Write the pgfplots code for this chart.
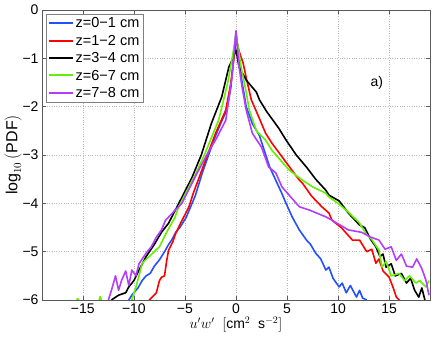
\documentclass[border=0pt]{standalone}
\usepackage{fontspec}
\setmainfont{Liberation Sans}
\usepackage{pgfplots}
\pgfplotsset{compat=1.18}

\definecolor{cblue}{RGB}{35,80,255}
\definecolor{cred}{RGB}{255,0,0}
\definecolor{cgreen}{RGB}{100,240,0}
\definecolor{cpurple}{RGB}{180,60,255}

\begin{document}
\begin{tikzpicture}[x=1pt,y=1pt]
\begin{axis}[
    scale only axis,
    width=388pt, height=290pt,
    xmin=-19, xmax=19, ymin=-6, ymax=0,
    xtick={-15,-10,-5,0,5,10,15},
    xticklabels={−15,−10,−5,0,5,10,15},
    ytick={-6,-5,-4,-3,-2,-1,0},
    yticklabels={−6,−5,−4,−3,−2,−1,0},
    tick label style={font=\fontsize{14}{16}\selectfont},
    xlabel={$u'w'\ \ [\mathrm{cm}^2\ \ \mathrm{s}^{-2}]$},
    ylabel={$\mathrm{log}_{10}\,(\mathrm{PDF})$},
    xlabel style={font=\fontsize{14}{16}\selectfont},
    ylabel style={font=\fontsize{16}{18}\selectfont},
    xlabel shift=-3pt,
    ylabel shift=-6pt,
    grid=major,
    grid style={gray!55, dotted, line width=0.5pt},
    axis line style={gray!70!black, line width=0.6pt},
    tick style={gray!70!black, line width=0.6pt},
    major tick length=4pt,
    legend style={at={(0.01,0.986)}, anchor=north west,
        draw=gray, line width=0.6pt, fill=white,
        font=\fontsize{14.5}{16}\selectfont,
        row sep=1.8pt, inner sep=1.5pt},
    legend cell align={left},
    legend image code/.code={\draw[#1, line width=2pt] (0pt,0.5pt) -- (24pt,0.5pt);},
    every axis plot/.append style={line width=1.6pt, line join=round},
]
% z = 0-1 cm
\addplot[cblue] coordinates {
(-10.5,-6.0) (-10.2,-5.9) (-9.6,-5.75) (-9.2,-5.6) (-8.8,-5.5) (-8.4,-5.45) (-8.0,-5.3) (-7.5,-5.17) (-7.0,-5.0) (-6.6,-4.85) (-6.3,-4.76) (-5.9,-4.6) (-5.5,-4.5) (-4.9,-4.3) (-4.5,-4.1) (-4.0,-3.85) (-3.3,-3.37) (-2.6,-2.95) (-2.0,-2.6) (-1.4,-2.3) (-0.9,-2.07) (-0.5,-1.6) (-0.2,-0.9) (0,-0.45) (0.2,-0.9) (0.6,-1.5) (1.0,-2.0) (1.6,-2.35) (2.3,-2.6) (3.3,-3.25) (4.5,-3.8) (4.9,-4.0) (5.5,-4.28) (6.2,-4.55) (6.9,-4.76) (7.3,-4.85) (7.8,-5.03) (8.3,-5.15) (8.8,-5.38) (9.1,-5.32) (9.5,-5.55) (10.1,-5.73) (10.4,-5.65) (10.8,-5.85) (11.2,-5.7) (11.8,-5.94) (12.1,-5.8) (12.4,-5.96) (12.8,-6.0)
};
\addlegendentry{z=0−1 cm}
% z = 1-2 cm
\addplot[cred] coordinates {
(-8.5,-6.0) (-8.2,-5.94) (-7.8,-5.85) (-7.5,-5.6) (-7.3,-5.53) (-7.0,-5.5) (-6.8,-5.2) (-6.6,-4.97) (-6.2,-4.8) (-5.9,-4.62) (-5.4,-4.4) (-4.6,-4.07) (-4.2,-3.8) (-3.6,-3.46) (-2.8,-3.0) (-2.0,-2.55) (-1.0,-2.07) (-0.5,-1.5) (-0.2,-1.0) (0,-0.58) (0.3,-0.85) (0.7,-1.1) (1.0,-1.4) (1.5,-1.86) (2.1,-2.15) (2.9,-2.55) (3.5,-2.75) (4.9,-3.15) (6.2,-3.52) (6.5,-3.58) (7.4,-3.85) (8.4,-4.07) (9.1,-4.2) (9.4,-4.35) (10.3,-4.5) (11.4,-4.76) (12.1,-4.76) (12.8,-5.0) (13.3,-4.95) (13.7,-5.24) (14.0,-5.15) (14.4,-5.4) (15.0,-5.53) (15.4,-5.75) (15.7,-5.94) (16.0,-6.0)
};
\addlegendentry{z=1−2 cm}
% z = 3-4 cm
\addplot[black] coordinates {
(-12.2,-6.0) (-11.5,-5.9) (-10.8,-5.85) (-10.5,-5.73) (-10.0,-5.6) (-9.5,-5.38) (-8.8,-5.1) (-8.0,-4.85) (-7.3,-4.6) (-6.6,-4.41) (-5.6,-4.0) (-4.3,-3.46) (-3.4,-3.0) (-2.4,-2.34) (-1.4,-1.8) (-0.7,-1.18) (-0.3,-1.0) (0,-0.83) (0.3,-1.18) (1.0,-1.45) (2.0,-1.7) (2.3,-1.86) (3.0,-2.1) (4.2,-2.45) (4.9,-2.69) (5.9,-3.0) (6.9,-3.25) (7.8,-3.5) (8.8,-3.73) (9.1,-3.83) (10.1,-3.95) (11.0,-4.2) (12.1,-4.45) (12.6,-4.5) (13.2,-4.75) (13.7,-4.9) (14.1,-5.1) (14.4,-5.05) (14.7,-5.32) (15.2,-5.25) (15.6,-5.5) (16.2,-5.45) (16.7,-5.65) (17.1,-5.55) (17.5,-5.8) (17.9,-5.94) (18.2,-5.75) (18.5,-6.0)
};
\addlegendentry{z=3−4 cm}
% z = 6-7 cm
\addplot[cgreen] coordinates {
(-10.2,-6.0) (-9.8,-5.73) (-9.5,-5.5) (-9.2,-5.24) (-8.5,-5.1) (-7.5,-4.9) (-6.8,-4.6) (-6.0,-4.3) (-5.6,-4.07) (-3.9,-3.37) (-3.1,-3.0) (-1.7,-2.28) (-0.8,-1.5) (-0.3,-0.9) (0,-0.5) (0.3,-0.9) (0.5,-1.18) (1.0,-1.7) (1.3,-2.07) (2.0,-2.5) (2.9,-2.69) (3.5,-2.9) (5.2,-3.31) (6.5,-3.52) (7.5,-3.66) (8.8,-3.79) (9.1,-3.87) (10.0,-4.0) (11.1,-4.2) (12.1,-4.41) (12.7,-4.62) (13.3,-4.75) (14.0,-4.97) (14.3,-5.32) (14.7,-5.2) (15.2,-5.5) (16.0,-5.45) (16.5,-5.6) (17.0,-5.5) (17.6,-5.65) (18.0,-5.6) (18.6,-5.73) (18.9,-5.6)
};
\addlegendentry{z=6−7 cm}
\addplot[cgreen, forget plot] coordinates {(-13.4,-6.0) (-13.3,-5.93) (-13.2,-6.0)};
\addplot[cgreen, forget plot] coordinates {(-15.6,-6.0) (-15.5,-5.97) (-15.4,-6.0)};
% z = 7-8 cm
\addplot[cpurple] coordinates {
(-12.5,-6.0) (-12.2,-5.8) (-11.8,-5.5) (-11.5,-5.8) (-11.2,-5.59) (-10.8,-5.4) (-10.5,-5.7) (-10.2,-5.38) (-9.8,-5.5) (-9.5,-5.25) (-8.8,-5.03) (-8.3,-4.9) (-7.8,-4.7) (-7.3,-4.55) (-6.9,-4.35) (-6.0,-4.15) (-5.3,-4.0) (-3.8,-3.37) (-2.6,-2.9) (-2.0,-2.69) (-1.0,-2.28) (-0.4,-1.39) (-0.15,-0.8) (0,-0.43) (0.15,-0.8) (0.3,-1.18) (0.6,-1.6) (1.0,-2.07) (1.6,-2.55) (2.5,-2.84) (3.2,-3.25) (3.9,-3.37) (4.5,-3.66) (5.9,-4.0) (6.2,-4.07) (7.2,-4.14) (8.8,-4.28) (9.4,-4.35) (11.0,-4.55) (12.3,-4.6) (13.2,-4.7) (14.0,-4.76) (14.6,-4.95) (15.2,-4.9) (15.7,-5.18) (16.2,-5.05) (16.7,-5.3) (17.3,-5.32) (17.7,-5.15) (18.2,-5.35) (18.6,-5.59) (18.9,-5.9)
};
\addlegendentry{z=7−8 cm}
\node[font=\fontsize{14}{16}\selectfont] at (axis cs:13.8,-1.5) {a)};
\coordinate (sw) at (rel axis cs:0,0);
\coordinate (ne) at (rel axis cs:1,1);
\end{axis}
\pgfresetboundingbox
\path[use as bounding box] ([xshift=-42pt,yshift=-41pt]sw) rectangle ([xshift=6pt,yshift=10pt]ne);
\end{tikzpicture}
\end{document}
